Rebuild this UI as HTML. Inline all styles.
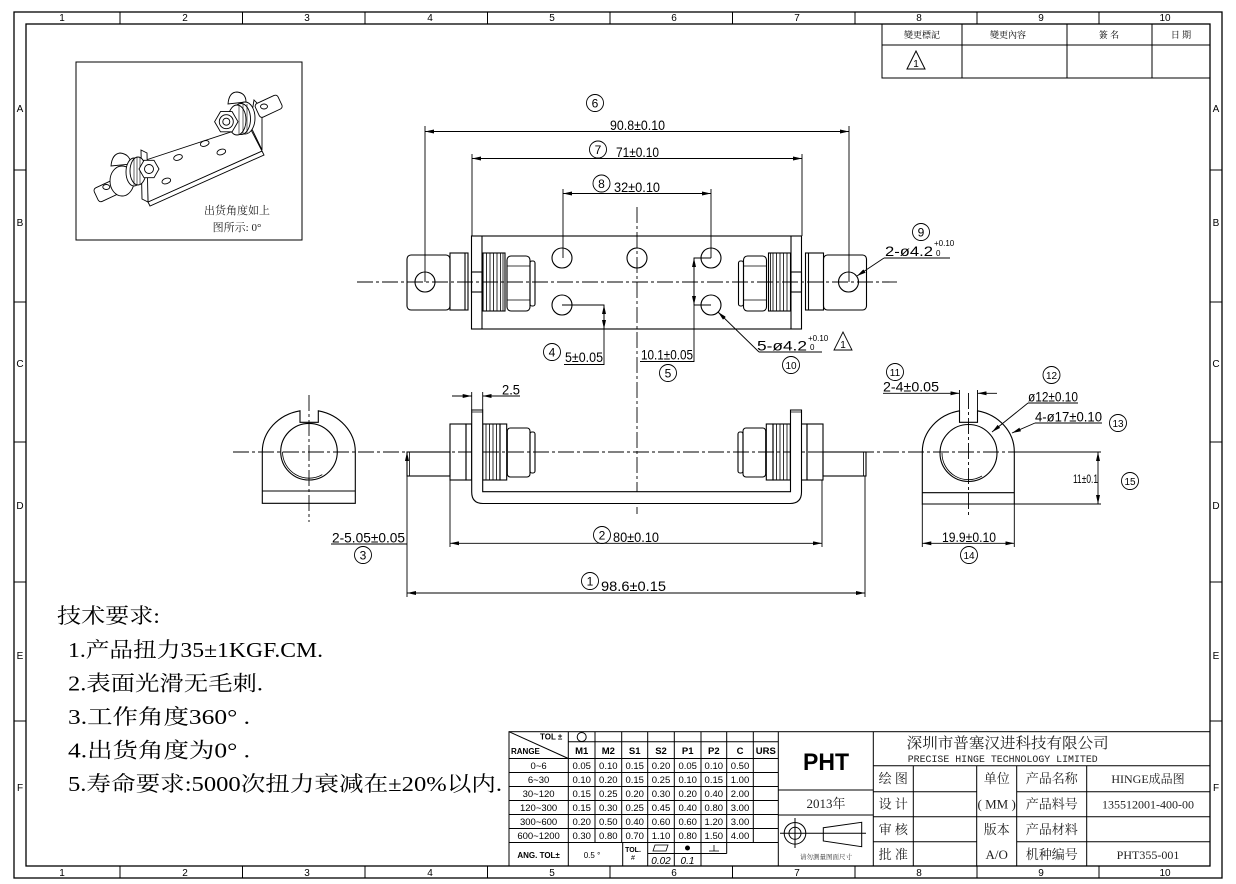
<!DOCTYPE html>
<html><head><meta charset="utf-8"><style>
html,body{margin:0;padding:0;background:#fff;}
svg{display:block;}
text{font-family:"Liberation Sans","Noto Sans CJK SC",sans-serif;fill:#000;stroke:none;}
.s{font-family:"Liberation Serif","Noto Serif CJK SC",serif;}
.z{font-family:"Liberation Serif",serif;font-size:10px;fill:#222;text-anchor:middle;}
.d{font-size:13.5px;}
.cn text{font-size:12px;text-anchor:middle;}
.t{font-size:10px;text-anchor:middle;}
.tb{font-family:"Liberation Serif","Noto Serif CJK SC",serif;font-size:13px;text-anchor:middle;fill:#222;}
</style></head><body>
<svg width="1236" height="884" viewBox="0 0 1236 884" xmlns="http://www.w3.org/2000/svg">
<defs>
<marker id="a" viewBox="0 0 9 4" refX="9" refY="2" markerWidth="9" markerHeight="4" orient="auto-start-reverse" markerUnits="userSpaceOnUse"><path d="M0,0 L9,2 L0,4 z" fill="#000"/></marker>
</defs>
<rect width="1236" height="884" fill="#fff"/>

<!-- Frame -->
<g fill="none" stroke="#000" stroke-width="1.3">
<rect x="14" y="12" width="1208" height="866"/>
<rect x="26" y="24" width="1184" height="842"/>
</g>
<g stroke="#000" stroke-width="1">
<path d="M120,12V24M242.5,12V24M365,12V24M487.5,12V24M610,12V24M732.5,12V24M855,12V24M977,12V24M1099,12V24"/>
<path d="M120,866V878M242.5,866V878M365,866V878M487.5,866V878M610,866V878M732.5,866V878M855,866V878M977,866V878M1099,866V878"/>
<path d="M14,170H26M14,302H26M14,442H26M14,582H26M14,721H26"/>
<path d="M1210,170H1222M1210,302H1222M1210,442H1222M1210,582H1222M1210,721H1222"/>
</g>
<g class="z">
<text x="62" y="21">1</text><text x="185" y="21">2</text><text x="307" y="21">3</text><text x="430" y="21">4</text><text x="552" y="21">5</text><text x="674" y="21">6</text><text x="797" y="21">7</text><text x="919" y="21">8</text><text x="1041" y="21">9</text><text x="1165" y="21">10</text>
<text x="62" y="876">1</text><text x="185" y="876">2</text><text x="307" y="876">3</text><text x="430" y="876">4</text><text x="552" y="876">5</text><text x="674" y="876">6</text><text x="797" y="876">7</text><text x="919" y="876">8</text><text x="1041" y="876">9</text><text x="1165" y="876">10</text>
<text x="20" y="112">A</text><text x="20" y="226">B</text><text x="20" y="367">C</text><text x="20" y="509">D</text><text x="20" y="659">E</text><text x="20" y="791">F</text>
<text x="1216" y="112">A</text><text x="1216" y="226">B</text><text x="1216" y="367">C</text><text x="1216" y="509">D</text><text x="1216" y="659">E</text><text x="1216" y="791">F</text>
</g>

<!-- Revision table -->
<g fill="none" stroke="#000" stroke-width="1">
<rect x="882" y="24" width="328" height="54"/>
<path d="M882,45H1210M962,24V78M1067,24V78M1152,24V78"/>
<path d="M907,69H925L916,51Z"/>
</g>
<g class="s" style="font-size:9px;text-anchor:middle;fill:#333">
<text x="922" y="38" class="s">變更標記</text><text x="1008" y="38" class="s">變更內容</text><text x="1109" y="38" class="s">簽 名</text><text x="1181" y="38" class="s">日 期</text>
</g>
<text x="916" y="67" style="font-size:10px;text-anchor:middle">1</text>

<!-- Iso picture -->
<rect x="76" y="62" width="226" height="178" fill="none" stroke="#000" stroke-width="1"/>
<g fill="#fff" stroke="#000" stroke-width="0.9">
<polygon points="250,125 262,150 262,108 254,100"/>
<polygon points="148,202 150,206 264,155 262,151"/>
<polygon points="146,160 249,126 262,151 148,202"/>
<polygon points="141,150 147,153 148,202 142,199"/>
<ellipse cx="178" cy="157.5" rx="4.5" ry="2.7" transform="rotate(-18 178 157.5)"/>
<ellipse cx="204.7" cy="143.5" rx="4.5" ry="2.7" transform="rotate(-18 204.7 143.5)"/>
<ellipse cx="221.3" cy="152" rx="4.5" ry="2.7" transform="rotate(-18 221.3 152)"/>
<ellipse cx="166.3" cy="181" rx="4.5" ry="2.7" transform="rotate(-18 166.3 181)"/>
<rect x="256" y="99" width="25" height="15" rx="3" transform="rotate(-25 268 106)"/>
<ellipse cx="264" cy="106.5" rx="3.5" ry="2.5"/>
<path d="M228,104 Q229,92 237,92 Q246,93 246,102 Z"/>
<ellipse cx="245" cy="118" rx="10" ry="16"/>
<ellipse cx="241" cy="119" rx="9.5" ry="15.5"/>
<ellipse cx="237" cy="120" rx="9" ry="15"/>
<path d="M239,105V134M243,104V134M247,104V133" fill="none" stroke-width="0.6"/>
<polygon points="214.6,121.7 220.5,111.6 232.1,111.6 238,121.7 232.1,131.8 220.5,131.8"/>
<circle cx="226.3" cy="121.7" r="7"/>
<circle cx="226.3" cy="121.7" r="3.5"/>
<rect x="95" y="182" width="30" height="15" rx="3" transform="rotate(-25 110 190)"/>
<ellipse cx="106.3" cy="187" rx="3.5" ry="2.5"/>
<ellipse cx="122" cy="181" rx="12" ry="15"/>
<path d="M111,166 Q112,154 120,153 Q130,154 131,164 Z"/>
<ellipse cx="134" cy="172" rx="8" ry="14"/>
<ellipse cx="138" cy="171" rx="8" ry="14"/>
<path d="M134,158V185M137,157V185M140,157V184" fill="none" stroke-width="0.6"/>
<polygon points="139,169 144,160.3 154,160.3 159,169 154,177.7 144,177.7"/>
<circle cx="149" cy="169" r="4.5"/>
</g>
<text x="237" y="214" class="s" style="font-size:11px;text-anchor:middle;fill:#222">出货角度如上</text>
<text x="237" y="231" class="s" style="font-size:11px;text-anchor:middle;fill:#222">图所示: 0°</text>

<!-- Center lines -->
<g stroke="#000" stroke-width="0.9" stroke-dasharray="16 3 3 3" fill="none">
<line x1="357" y1="282" x2="897" y2="282"/>
<line x1="637" y1="207" x2="637" y2="514"/>
<line x1="233" y1="452" x2="1062" y2="452"/>
<line x1="309" y1="395" x2="309" y2="522"/>
<line x1="968.5" y1="393" x2="968.5" y2="517"/>
</g>

<!-- Top view -->
<g id="tva" fill="none" stroke="#000" stroke-width="1.1">
<rect x="407" y="255" width="43" height="55" rx="4"/>
<circle cx="425" cy="282" r="10"/>
<rect x="450" y="253" width="18" height="57"/>
<line x1="465" y1="253" x2="465" y2="310"/>
<rect x="483" y="253" width="22" height="58"/>
<path d="M486.5,253V311M490,253V311M493.5,253V311M497,253V311M500.5,253V311M503,253V311" stroke-width="0.8"/>
<rect x="507" y="256" width="23" height="55" rx="4"/>
<path d="M507,266H530M507,300H530" stroke-width="0.8"/>
<rect x="530" y="261" width="5" height="45" rx="2"/>
</g>
<use href="#tva" transform="translate(1273.5,0) scale(-1,1)"/>
<g fill="none" stroke="#000" stroke-width="1.1">
<rect x="471.5" y="236" width="330" height="93"/>
<line x1="482" y1="236" x2="482" y2="329"/>
<line x1="791" y1="236" x2="791" y2="329"/>
<rect x="471.5" y="272" width="10.5" height="20"/>
<rect x="791" y="272" width="10.5" height="20"/>
<circle cx="562" cy="258" r="10"/>
<circle cx="637" cy="258" r="10"/>
<circle cx="711" cy="258" r="10"/>
<circle cx="562" cy="305" r="10"/>
<circle cx="711" cy="305" r="10"/>
</g>

<!-- Top view dims -->
<g fill="none" stroke="#000" stroke-width="0.9">
<line x1="425" y1="126" x2="425" y2="282"/>
<line x1="849" y1="126" x2="849" y2="282"/>
<line x1="425" y1="131.5" x2="849" y2="131.5" marker-start="url(#a)" marker-end="url(#a)"/>
<line x1="472" y1="154" x2="472" y2="236"/>
<line x1="802" y1="154" x2="802" y2="236"/>
<line x1="472" y1="158.5" x2="802" y2="158.5" marker-start="url(#a)" marker-end="url(#a)"/>
<line x1="563" y1="189" x2="563" y2="258"/>
<line x1="711" y1="189" x2="711" y2="258"/>
<line x1="563" y1="193.5" x2="711" y2="193.5" marker-start="url(#a)" marker-end="url(#a)"/>
<line x1="884" y1="258" x2="950" y2="258"/>
<line x1="884" y1="258" x2="857" y2="276" marker-end="url(#a)"/>
<path d="M562,305H604V365"/>
<line x1="604" y1="305" x2="604" y2="329" marker-start="url(#a)" marker-end="url(#a)"/>
<line x1="564" y1="364.5" x2="604" y2="364.5"/>
<path d="M711,258H694V362M694,305H711"/>
<line x1="694" y1="258" x2="694" y2="305" marker-start="url(#a)" marker-end="url(#a)"/>
<line x1="640" y1="361.5" x2="694" y2="361.5"/>
<line x1="822" y1="352" x2="759" y2="352"/>
<line x1="759" y1="352" x2="718" y2="312" marker-end="url(#a)"/>
<path d="M834,350H852L843,332Z"/>
</g>
<g class="d">
<text x="610" y="130" textLength="55" lengthAdjust="spacingAndGlyphs" class="d">90.8±0.10</text>
<text x="616" y="157" textLength="43" lengthAdjust="spacingAndGlyphs" class="d">71±0.10</text>
<text x="614" y="192" textLength="46" lengthAdjust="spacingAndGlyphs" class="d">32±0.10</text>
<text x="885" y="256" textLength="48" lengthAdjust="spacingAndGlyphs" class="d">2-ø4.2</text>
<text x="565" y="362" textLength="38" lengthAdjust="spacingAndGlyphs" class="d">5±0.05</text>
<text x="641" y="359.5" textLength="52" lengthAdjust="spacingAndGlyphs" class="d">10.1±0.05</text>
<text x="757" y="350.5" textLength="50" lengthAdjust="spacingAndGlyphs" class="d">5-ø4.2</text>
</g>
<text x="934" y="246" style="font-size:8px">+0.10</text>
<text x="936" y="256" style="font-size:8px">0</text>
<text x="808" y="341" style="font-size:8px">+0.10</text>
<text x="810" y="350" style="font-size:8px">0</text>
<text x="843" y="348" style="font-size:10px;text-anchor:middle">1</text>

<!-- Front view -->
<g id="fva" fill="none" stroke="#000" stroke-width="1.1">
<rect x="407" y="452" width="43" height="24"/>
<line x1="409.5" y1="452" x2="409.5" y2="476" stroke-width="0.8"/>
<rect x="450" y="424" width="16" height="56"/>
<rect x="466" y="424" width="5.7" height="56"/>
<rect x="482.7" y="424" width="17.3" height="56"/>
<path d="M486,424V480M489.5,424V480M493,424V480M496.5,424V480" stroke-width="0.8"/>
<rect x="500" y="424" width="6.7" height="56"/>
<rect x="507.3" y="428" width="22.7" height="49" rx="3"/>
<rect x="530" y="432" width="5" height="41" rx="2"/>
</g>
<use href="#fva" transform="translate(1273,0) scale(-1,1)"/>
<g fill="none" stroke="#000" stroke-width="1.1">
<path d="M471.7,410V492Q471.7,503.5 483,503.5H790Q801.5,503.5 801.5,492V410H790.5V491.7H482.7V410Z" fill="#fff"/>
<path d="M471.7,412H482.7M790.5,412H801.5" stroke-width="0.8"/>
</g>
<g fill="none" stroke="#000" stroke-width="0.9">
<path d="M471.7,392V410M482.7,392V410"/>
<line x1="452" y1="396" x2="471.7" y2="396" marker-end="url(#a)"/>
<line x1="520" y1="396" x2="482.7" y2="396" marker-end="url(#a)"/>
<path d="M450,480V547M822,480V547"/>
<line x1="450" y1="543.3" x2="822" y2="543.3" marker-start="url(#a)" marker-end="url(#a)"/>
<path d="M407,476V597M865,476V597"/>
<line x1="407" y1="593" x2="865" y2="593" marker-start="url(#a)" marker-end="url(#a)"/>
<line x1="407" y1="452" x2="407" y2="476"/>
<line x1="407" y1="452" x2="407" y2="468" marker-start="url(#a)"/>
<line x1="331" y1="544" x2="407" y2="544"/>
</g>
<g class="d">
<text x="502" y="394.5" textLength="18" lengthAdjust="spacingAndGlyphs" class="d">2.5</text>
<text x="613" y="542" textLength="46" lengthAdjust="spacingAndGlyphs" class="d">80±0.10</text>
<text x="601" y="591" textLength="65" lengthAdjust="spacingAndGlyphs" class="d">98.6±0.15</text>
<text x="332" y="542.5" textLength="73" lengthAdjust="spacingAndGlyphs" class="d">2-5.05±0.05</text>
</g>

<!-- Left view -->
<g fill="none" stroke="#000" stroke-width="1.1">
<path d="M262.3,503.3V451.7A46.5,41.7 0 0 1 300,410.8V422.3H318.3V410.8A46.5,41.7 0 0 1 355.3,451.7V503.3Z"/>
<line x1="262.3" y1="491" x2="355.3" y2="491"/>
<circle cx="309" cy="451.7" r="28.3"/>
<path d="M282.5,451.7A26.5,26.5 0 0 0 322.3,474.6" stroke-width="0.8"/>
</g>

<!-- Right view -->
<g fill="none" stroke="#000" stroke-width="1.1">
<path d="M922.3,504V451.7A46,41.7 0 0 1 959.5,410.8V422.3H977.5V410.8A46,41.7 0 0 1 1014.3,451.7V504Z"/>
<line x1="922.3" y1="492.7" x2="1014.3" y2="492.7"/>
<circle cx="968.5" cy="453" r="28.5"/>
<path d="M942,453A26.5,26.5 0 0 0 982,476" stroke-width="0.8"/>
</g>
<g fill="none" stroke="#000" stroke-width="0.9">
<path d="M959.5,390V410.8M977.5,390V410.8"/>
<line x1="883" y1="393.3" x2="959.5" y2="393.3" marker-end="url(#a)"/>
<line x1="997" y1="393.3" x2="977.5" y2="393.3" marker-end="url(#a)"/>
<line x1="1028" y1="403" x2="1078" y2="403"/>
<line x1="1028" y1="403" x2="992" y2="432" marker-end="url(#a)"/>
<line x1="1035" y1="423" x2="1102" y2="423"/>
<line x1="1035" y1="423" x2="1012" y2="433" marker-end="url(#a)"/>
<path d="M1014.3,504H1101M1014.3,452H1101"/>
<line x1="1098" y1="452" x2="1098" y2="504" marker-start="url(#a)" marker-end="url(#a)"/>
<path d="M922.3,504V547M1014.3,504V547"/>
<line x1="922.3" y1="543.3" x2="1014.3" y2="543.3" marker-start="url(#a)" marker-end="url(#a)"/>
</g>
<g class="d">
<text x="883" y="391.5" textLength="56" lengthAdjust="spacingAndGlyphs" class="d">2-4±0.05</text>
<text x="1028" y="401.5" textLength="50" lengthAdjust="spacingAndGlyphs" class="d">ø12±0.10</text>
<text x="1035" y="421.5" textLength="67" lengthAdjust="spacingAndGlyphs" class="d">4-ø17±0.10</text>
<text x="1073" y="483" textLength="25" lengthAdjust="spacingAndGlyphs" style="font-size:12px">11±0.1</text>
<text x="942" y="542" textLength="54" lengthAdjust="spacingAndGlyphs" class="d">19.9±0.10</text>
</g>

<!-- Circle labels -->
<g class="cn" fill="none" stroke="#000" stroke-width="0.9">
<circle cx="590" cy="581" r="8.5"/><circle cx="602" cy="535" r="8.5"/><circle cx="363" cy="555" r="8.5"/><circle cx="552" cy="352" r="8.5"/><circle cx="668" cy="373" r="8.5"/><circle cx="595" cy="103" r="8.5"/><circle cx="598" cy="149.5" r="8.5"/><circle cx="601.5" cy="183.5" r="8.5"/><circle cx="921" cy="232" r="8.5"/><circle cx="791" cy="365" r="8.5"/><circle cx="895" cy="372" r="8.5"/><circle cx="1051.5" cy="375" r="8.5"/><circle cx="1118" cy="423" r="8.5"/><circle cx="969" cy="555" r="8.5"/><circle cx="1130" cy="481" r="8.5"/>
<text x="590" y="585.5">1</text><text x="602" y="539.5">2</text><text x="363" y="559.5">3</text><text x="552" y="356.5">4</text><text x="668" y="377.5">5</text><text x="595" y="107.5">6</text><text x="598" y="154">7</text><text x="601.5" y="188">8</text><text x="921" y="236.5">9</text>
<text x="791" y="369" style="font-size:10px">10</text><text x="895" y="376" style="font-size:10px">11</text><text x="1051.5" y="379" style="font-size:10px">12</text><text x="1118" y="427" style="font-size:10px">13</text><text x="969" y="559" style="font-size:10px">14</text><text x="1130" y="485" style="font-size:10px">15</text>
</g>

<!-- Technical notes -->
<g class="s" style="font-size:21px;fill:#222">
<text x="57" y="623" class="s" textLength="103" lengthAdjust="spacingAndGlyphs">技术要求:</text>
<text x="68" y="657" class="s" textLength="255" lengthAdjust="spacingAndGlyphs">1.产品扭力35±1KGF.CM.</text>
<text x="68" y="690.5" class="s" textLength="195" lengthAdjust="spacingAndGlyphs">2.表面光滑无毛刺.</text>
<text x="68" y="724" class="s" textLength="182" lengthAdjust="spacingAndGlyphs">3.工作角度360° .</text>
<text x="68" y="757.5" class="s" textLength="182" lengthAdjust="spacingAndGlyphs">4.出货角度为0° .</text>
<text x="68" y="791" class="s" textLength="434" lengthAdjust="spacingAndGlyphs">5.寿命要求:5000次扭力衰减在±20%以内.</text>
</g>

<!-- Tolerance table -->
<g fill="none" stroke="#000" stroke-width="1">
<rect x="509" y="731.7" width="701" height="134.3"/>
<path d="M568.3,731.7V866M595,731.7V842.5M621.7,731.7V842.5M647.7,731.7V866M674.3,731.7V866M701,731.7V866M726.7,731.7V853.5M753.3,731.7V842.5M778.3,731.7V866M622.7,842.5V866"/>
<path d="M568.3,741.7H778.3M509,758.5H778.3M509,772.5H778.3M509,786.5H778.3M509,800.5H778.3M509,814.5H778.3M509,828.5H778.3M509,842.5H778.3M647.7,853.5H726.7"/>
<path d="M509,731.7L568.3,758.5"/>
<circle cx="581.7" cy="737" r="4.5"/>
<path d="M778.3,790H873.3M778.3,815H873.3"/>
<circle cx="795" cy="833.3" r="10.8"/><circle cx="795" cy="833.3" r="6"/>
<path d="M780,833.3H866M795,818V848"/>
<path d="M823.3,827.7L861.7,822.3V846.7L823.3,841Z"/>
<path d="M655,845H668L666,851H653Z" stroke-width="0.8"/>
<circle cx="687.5" cy="848" r="2" fill="#000"/>
<path d="M709,851H719M714,851V845" stroke-width="0.8"/>
</g>
<g style="font-size:8px;font-weight:bold">
<text x="540" y="739.5">TOL ±</text>
<text x="511" y="754">RANGE</text>
</g>
<g class="t" style="font-weight:bold;font-size:9.5px">
<text x="581.7" y="754">M1</text><text x="608.3" y="754">M2</text><text x="634.7" y="754">S1</text><text x="661" y="754">S2</text><text x="687.7" y="754">P1</text><text x="713.8" y="754">P2</text><text x="740" y="754">C</text><text x="765.8" y="754">URS</text>
</g>
<g class="t" style="font-size:9.5px">
<text x="538.6" y="769">0~6</text><text x="581.7" y="769">0.05</text><text x="608.3" y="769">0.10</text><text x="634.7" y="769">0.15</text><text x="661" y="769">0.20</text><text x="687.7" y="769">0.05</text><text x="713.8" y="769">0.10</text><text x="740" y="769">0.50</text>
<text x="538.6" y="783">6~30</text><text x="581.7" y="783">0.10</text><text x="608.3" y="783">0.20</text><text x="634.7" y="783">0.15</text><text x="661" y="783">0.25</text><text x="687.7" y="783">0.10</text><text x="713.8" y="783">0.15</text><text x="740" y="783">1.00</text>
<text x="538.6" y="797">30~120</text><text x="581.7" y="797">0.15</text><text x="608.3" y="797">0.25</text><text x="634.7" y="797">0.20</text><text x="661" y="797">0.30</text><text x="687.7" y="797">0.20</text><text x="713.8" y="797">0.40</text><text x="740" y="797">2.00</text>
<text x="538.6" y="811">120~300</text><text x="581.7" y="811">0.15</text><text x="608.3" y="811">0.30</text><text x="634.7" y="811">0.25</text><text x="661" y="811">0.45</text><text x="687.7" y="811">0.40</text><text x="713.8" y="811">0.80</text><text x="740" y="811">3.00</text>
<text x="538.6" y="825">300~600</text><text x="581.7" y="825">0.20</text><text x="608.3" y="825">0.50</text><text x="634.7" y="825">0.40</text><text x="661" y="825">0.60</text><text x="687.7" y="825">0.60</text><text x="713.8" y="825">1.20</text><text x="740" y="825">3.00</text>
<text x="538.6" y="839">600~1200</text><text x="581.7" y="839">0.30</text><text x="608.3" y="839">0.80</text><text x="634.7" y="839">0.70</text><text x="661" y="839">1.10</text><text x="687.7" y="839">0.80</text><text x="713.8" y="839">1.50</text><text x="740" y="839">4.00</text>
<text x="538.6" y="858" style="font-size:8px;font-weight:bold">ANG.   TOL±</text>
<text x="592" y="858" style="font-size:8px">0.5 °</text>
<text x="633" y="852" style="font-size:7px;font-weight:bold">TOL.</text>
<text x="633" y="860" style="font-size:7px">#</text>
<text x="661" y="864" style="font-size:10px;font-style:italic">0.02</text>
<text x="687.5" y="864" style="font-size:10px;font-style:italic">0.1</text>
</g>
<text x="826" y="770" style="font-size:24px;font-weight:bold;text-anchor:middle" textLength="46" lengthAdjust="spacingAndGlyphs">PHT</text>
<text x="826" y="808" class="tb">2013年</text>
<text x="826" y="859" class="s" style="font-size:6.5px;text-anchor:middle;fill:#333">请勿测量图面尺寸</text>

<!-- Company block -->
<g fill="none" stroke="#000" stroke-width="1">
<path d="M873.3,731.7V866M873.3,765.7H1210M913.3,765.7V866M976.7,765.7V866M1016.7,765.7V866M1086.7,765.7V866"/>
<path d="M873.3,791.7H976.7M1016.7,791.7H1210M873.3,816.7H1210M873.3,841.7H976.7M1016.7,841.7H1210"/>
</g>
<text x="906.7" y="748" class="s" style="font-size:15px;fill:#222" textLength="202" lengthAdjust="spacingAndGlyphs">深圳市普塞汉进科技有限公司</text>
<text x="907.7" y="762" style="font-family:'Liberation Mono',monospace;font-size:10px;fill:#222" textLength="190" lengthAdjust="spacingAndGlyphs">PRECISE HINGE TECHNOLOGY LIMITED</text>
<g class="tb">
<text x="893.3" y="783" class="tb">绘 图</text><text x="893.3" y="808.5" class="tb">设 计</text><text x="893.3" y="834" class="tb">审 核</text><text x="893.3" y="859" class="tb">批 准</text>
<text x="996.7" y="783" class="tb">单位</text><text x="996.7" y="808.5" class="tb">( MM )</text><text x="996.7" y="834" class="tb">版本</text><text x="996.7" y="859" class="tb">A/O</text>
<text x="1051.7" y="783" class="tb">产品名称</text><text x="1051.7" y="808.5" class="tb">产品料号</text><text x="1051.7" y="834" class="tb">产品材料</text><text x="1051.7" y="859" class="tb">机种编号</text>
<text x="1148" y="783" class="tb" style="font-size:12px">HINGE成品图</text>
<text x="1148" y="808.5" class="tb" style="font-size:12px">135512001-400-00</text>
<text x="1148" y="859" class="tb" style="font-size:12px">PHT355-001</text>
</g>
</svg>
</body></html>
